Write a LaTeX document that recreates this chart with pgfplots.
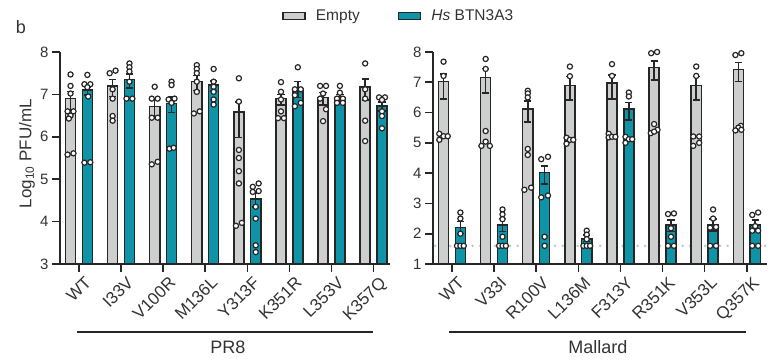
\documentclass[border=0pt]{standalone}
\usepackage{pgfplots}
\pgfplotsset{compat=1.18}
\usepackage{pgfplotstable}
\usepackage{fontspec}
\setmainfont{Liberation Sans}

\definecolor{barg}{HTML}{CDCFCE}
\definecolor{bart}{HTML}{0E93A7}
\definecolor{edgec}{HTML}{262626}
\definecolor{txc}{HTML}{333333}
\definecolor{dotc}{HTML}{C4C4C4}

\pgfplotstableread{
x y ep em
-0.2 6.90 0.17 0.30
0.8 7.20 0.15 0.25
1.8 6.72 0.17 0.28
2.8 7.31 0.14 0.22
3.8 6.58 0.24 0.60
4.8 6.90 0.10 0.15
5.8 6.93 0.12 0.18
6.8 7.17 0.19 0.30
}\prGray
\pgfplotstableread{
x y ep em
0.2 7.10 0.08 0.12
1.2 7.35 0.13 0.20
2.2 6.79 0.15 0.22
3.2 7.22 0.10 0.14
4.2 4.53 0.14 0.18
5.2 7.13 0.17 0.20
6.2 6.93 0.07 0.10
7.2 6.73 0.09 0.12
}\prTeal
\pgfplotstableread{
x y ep em
-0.2 7.02 0.25 0.57
0.8 7.15 0.30 0.50
1.8 6.11 0.27 0.42
2.8 6.89 0.30 0.47
3.8 6.97 0.27 0.53
4.8 7.49 0.22 0.41
5.8 6.90 0.29 0.48
6.8 7.43 0.22 0.41
}\maGray
\pgfplotstableread{
x y ep em
0.2 2.20 0.20 0.20
1.2 2.29 0.22 0.22
2.2 4.02 0.22 0.38
3.2 1.82 0.14 0.08
4.2 6.11 0.22 0.35
5.2 2.29 0.16 0.22
6.2 2.31 0.17 0.22
7.2 2.28 0.17 0.21
}\maTeal

\pgfplotstableread{
x y
-0.2 7.47
-0.2 7.20
-0.2 7.02
-0.27 6.60
-0.13 6.60
-0.2 6.50
-0.24 6.43
-0.27 5.58
-0.13 5.61
0.2 7.46
0.13 7.24
0.27 7.24
0.2 7.17
0.22 6.95
0.13 5.39
0.27 5.40
0.73 7.50
0.87 7.56
0.8 7.12
0.8 6.90
0.8 6.49
0.8 6.38
1.2 7.73
1.2 7.64
1.2 7.54
1.2 7.30
1.13 6.90
1.27 6.90
1.8 7.18
1.73 6.90
1.87 6.90
1.73 6.45
1.87 6.45
1.73 5.35
1.87 5.41
2.2 7.30
2.2 7.22
2.13 6.88
2.27 6.90
2.2 6.80
2.15 5.72
2.25 5.74
2.8 7.69
2.8 7.60
2.8 7.50
2.8 7.30
2.8 7.06
2.73 6.55
2.87 6.60
3.2 7.60
3.2 7.30
3.2 7.18
3.2 7.06
3.2 6.88
3.2 6.76
3.8 7.38
3.8 6.83
3.8 5.69
3.8 5.50
3.8 5.19
3.8 4.90
3.73 3.90
3.87 3.97
4.13 4.82
4.27 4.90
4.13 4.70
4.27 4.72
4.2 4.35
4.2 4.07
4.2 3.44
4.2 3.28
4.8 7.29
4.8 7.06
4.8 6.88
4.8 6.60
4.73 6.44
4.87 6.44
5.2 7.64
5.13 7.12
5.27 7.12
5.13 6.98
5.27 6.80
5.13 6.72
5.73 7.20
5.87 7.20
5.8 7.02
5.73 6.90
5.87 6.65
5.8 6.37
6.2 7.20
6.2 7.04
6.13 6.90
6.27 6.90
6.13 6.80
6.27 6.80
6.8 7.73
6.8 7.12
6.8 6.90
6.8 6.38
6.8 5.90
7.13 6.93
7.27 6.93
7.2 6.87
7.2 6.60
7.2 6.49
7.2 6.20
}\prDots

\pgfplotstableread{
x y
-0.2 7.68
-0.2 7.21
-0.3 5.30
-0.2 5.22
-0.1 5.22
-0.3 5.10
0.2 2.70
0.2 2.50
0.2 2.00
0.12 1.60
0.2 1.60
0.28 1.60
0.8 7.77
0.8 7.44
0.8 5.39
0.8 5.04
0.7 4.90
0.9 4.90
1.2 2.80
1.2 2.64
1.2 2.48
1.2 1.90
1.12 1.60
1.2 1.60
1.28 1.60
1.8 6.72
1.8 6.63
1.8 6.50
1.8 4.80
1.8 4.60
1.72 3.45
1.88 3.52
2.12 4.46
2.28 4.54
2.12 3.20
2.28 3.26
2.2 1.90
2.2 1.60
2.8 7.52
2.8 7.20
2.72 5.17
2.8 5.10
2.88 5.10
2.72 4.97
3.2 2.10
3.2 1.97
3.2 1.82
3.12 1.60
3.2 1.60
3.28 1.60
3.8 7.60
3.8 7.21
3.72 5.30
3.72 5.18
3.8 5.20
3.88 5.20
4.2 6.66
4.2 6.53
4.12 5.20
4.2 5.12
4.28 5.12
4.12 5.00
4.73 7.96
4.87 8.00
4.8 5.62
4.88 5.43
4.72 5.32
4.8 5.37
5.13 2.65
5.27 2.67
5.2 2.18
5.2 1.90
5.13 1.60
5.27 1.60
5.8 7.52
5.8 7.21
5.73 5.21
5.87 5.21
5.87 5.00
5.73 4.90
6.2 2.80
6.2 2.50
6.13 2.20
6.27 2.22
6.13 1.60
6.27 1.60
6.73 7.90
6.87 7.96
6.86 5.56
6.8 5.50
6.73 5.41
6.87 5.43
7.13 2.62
7.27 2.70
7.2 2.25
7.13 2.10
7.27 2.10
7.13 1.60
7.27 1.60
}\maDots

\pgfplotsset{
  gp/.style={
    scale only axis,
    axis x line*=bottom, axis y line*=left,
    axis line style={line width=1.6pt, draw=edgec},
    every tick/.style={line width=1.6pt, draw=edgec},
    tick align=outside,
    major tick length=8pt,
    xtick={0,1,2,3,4,5,6,7},
    xmin=-0.45,
    ytick distance=1,
    /pgf/number format/assume math mode=true,
    yticklabel style={font=\fontsize{15}{17}\selectfont, text=txc},
    xticklabel style={font=\fontsize{17}{19}\selectfont, text=txc, rotate=45, anchor=north east, inner sep=1pt, xshift=2pt, yshift=-5pt},
  },
  gbar/.style={ybar, bar width=0.24, bar shift=0pt, fill=barg, draw=edgec, line width=1.5pt,
    legend image code/.code={\draw[line width=1.6pt, draw=edgec, fill=barg] (0pt,-3.5pt) rectangle (22pt,3.5pt);},
    error bars/.cd, y dir=both, y explicit,
    error bar style={line width=1.5pt, draw=edgec},
    error mark options={rotate=90, mark size=3.6pt, line width=1.5pt, draw=edgec}},
  tbar/.style={ybar, bar width=0.24, bar shift=0pt, fill=bart, draw=edgec, line width=1.5pt,
    legend image code/.code={\draw[line width=1.6pt, draw=edgec, fill=bart] (0pt,-3.5pt) rectangle (22pt,3.5pt);},
    error bars/.cd, y dir=both, y explicit,
    error bar style={line width=1.5pt, draw=edgec},
    error mark options={rotate=90, mark size=3.6pt, line width=1.5pt, draw=edgec}},
  dots/.style={only marks, mark=*, mark size=2.6pt, mark options={fill=white, draw=edgec, line width=1.2pt}, forget plot},
}

\begin{document}
\begin{tikzpicture}[x=1pt,y=1pt]
\path[use as bounding box] (0,0) rectangle (772,363);

\begin{axis}[gp,
  at={(60pt,99pt)}, anchor=south west,
  width=330pt, height=212pt,
  xmax=7.39, ymin=3, ymax=8,
  xticklabels={WT,I33V,V100R,M136L,Y313F,K351R,L353V,K357Q},
  ylabel={Log\textsubscript{10} PFU/mL},
  ylabel style={font=\fontsize{17}{19}\selectfont, text=txc, at={(axis description cs:-0.1,0.52)}, anchor=center},
  legend style={at={(axis description cs:0.673,1.17)}, anchor=west, draw=none, fill=none, inner sep=0pt,
    font=\fontsize{15.5}{17}\selectfont, text=txc, legend columns=2,
    /tikz/every odd column/.append style={column sep=8pt},
    /tikz/every even column/.append style={column sep=36pt}},
  legend cell align=left,
]
\addplot[gbar] table[x=x, y=y, y error plus=ep, y error minus=em] {\prGray};
\addlegendentry{Empty}
\addplot[tbar] table[x=x, y=y, y error plus=ep, y error minus=em] {\prTeal};
\addlegendentry{\textit{Hs} BTN3A3}
\addplot[dots] table[x=x, y=y] {\prDots};
\end{axis}

\begin{axis}[gp,
  at={(433pt,99pt)}, anchor=south west,
  width=334pt, height=212pt,
  xmax=7.48, ymin=1, ymax=8,
  xticklabels={WT,V33I,R100V,L136M,F313Y,R351K,V353L,Q357K},
]
\addplot[draw=dotc, line width=2.8pt, line cap=round, dash pattern=on 0pt off 7.5pt, forget plot] coordinates {(-0.4,1.6) (7.48,1.6)};
\addplot[gbar] table[x=x, y=y, y error plus=ep, y error minus=em] {\maGray};
\addplot[tbar] table[x=x, y=y, y error plus=ep, y error minus=em] {\maTeal};
\addplot[dots] table[x=x, y=y] {\maDots};
\end{axis}

\node[font=\fontsize{18}{20}\selectfont, text=txc] at (21,336) {b};
\draw[line width=1.3pt, edgec] (77,31) -- (373,31);
\draw[line width=1.3pt, edgec] (449,31) -- (746,31);
\node[font=\fontsize{18}{20}\selectfont, text=txc, anchor=base] at (228,9) {PR8};
\node[font=\fontsize{18}{20}\selectfont, text=txc, anchor=base] at (598,9) {Mallard};
\end{tikzpicture}
\end{document}
